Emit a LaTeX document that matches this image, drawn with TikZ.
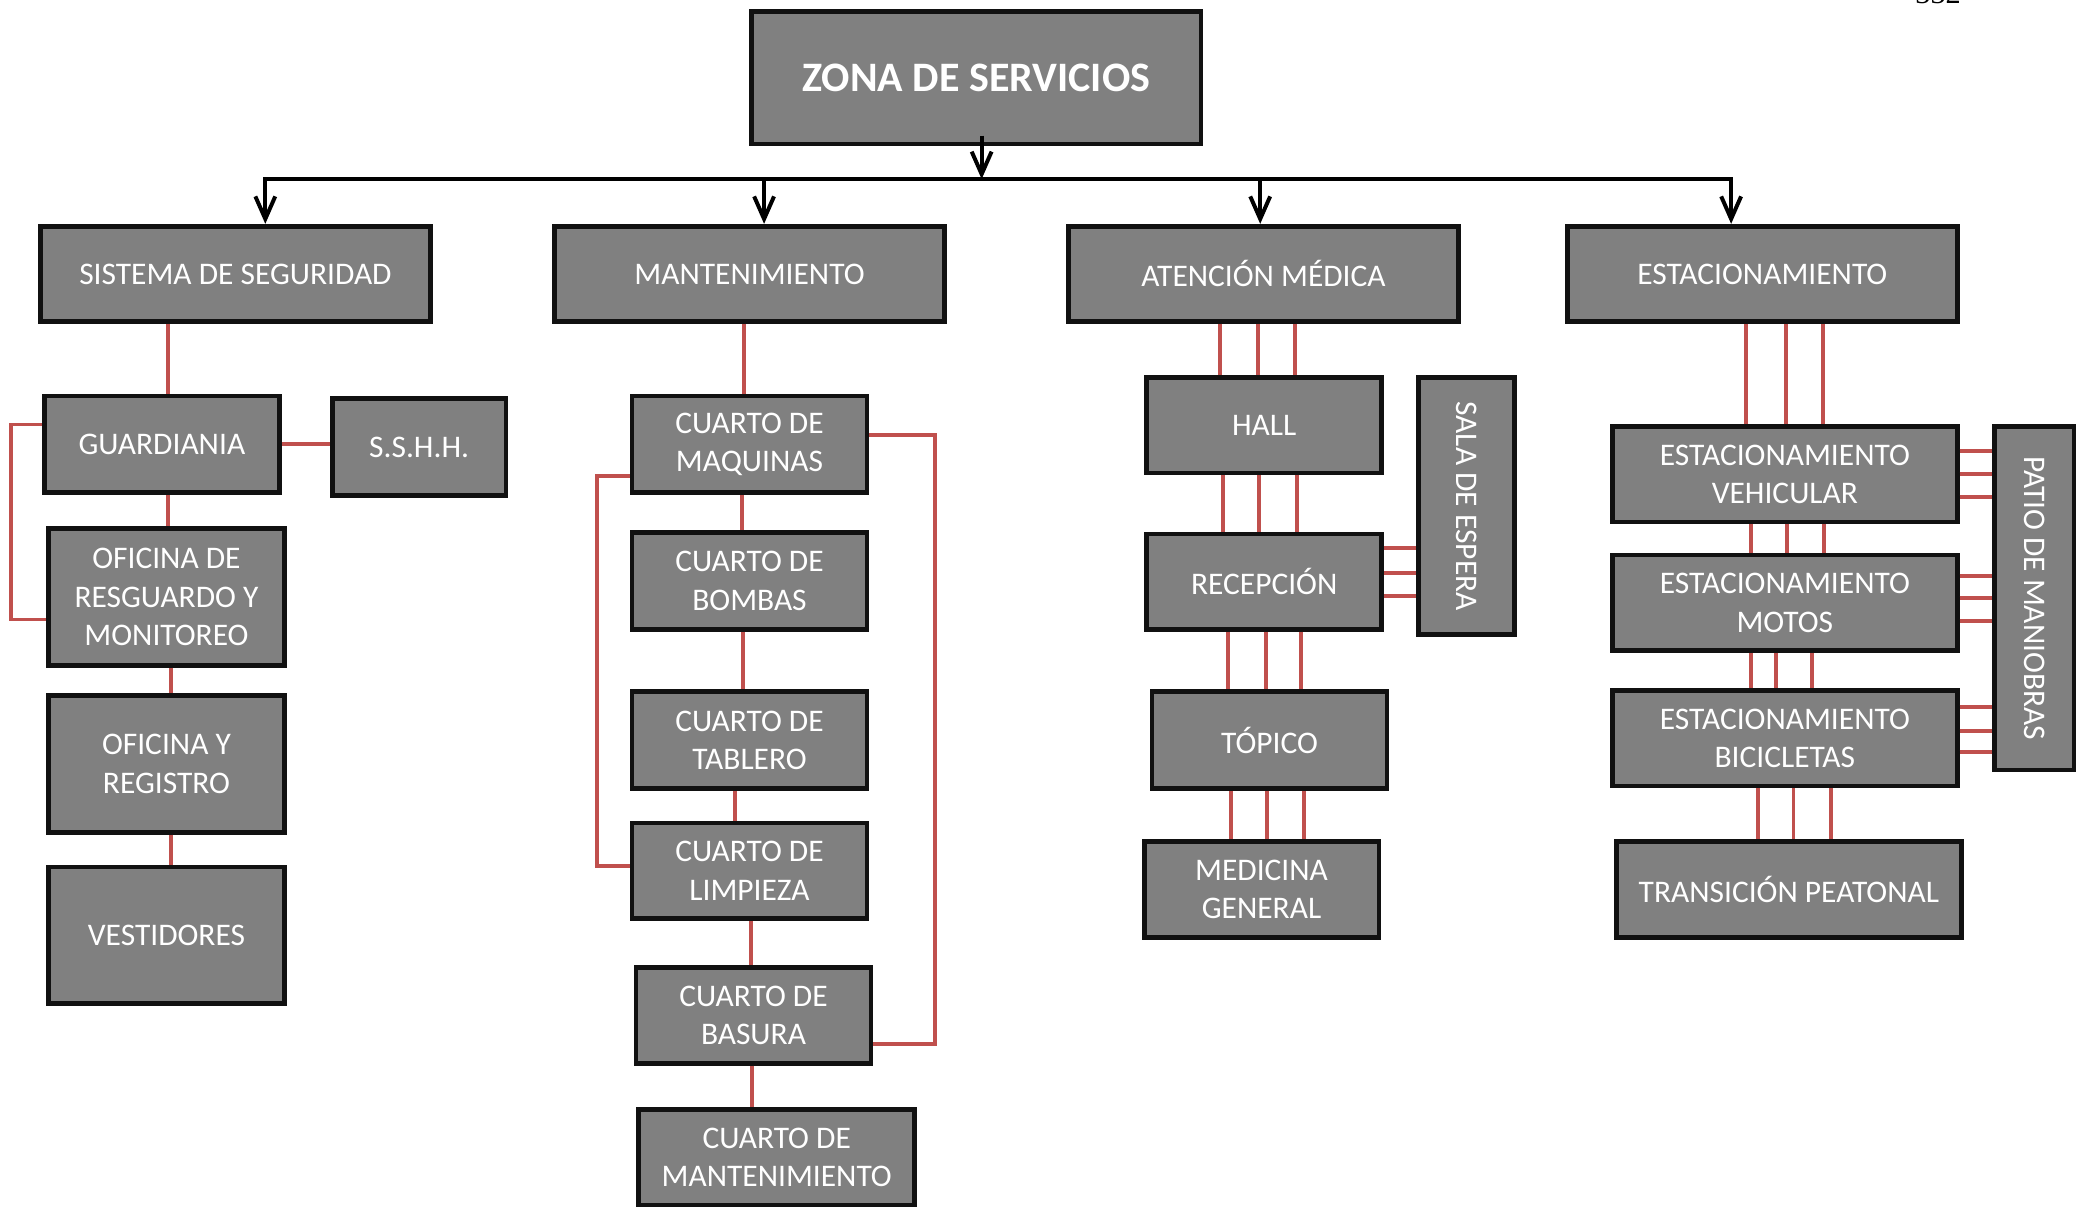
\documentclass[tikz,border=0pt]{standalone}
\usepackage{fontspec}
\setmainfont{Carlito}
\newfontfamily\pagfont{Liberation Serif}
\usetikzlibrary{arrows.meta,calc}
\definecolor{cajagris}{HTML}{808080}
\definecolor{bordenegro}{HTML}{111111}
\definecolor{rojolinea}{HTML}{C0504D}

\begin{document}
\begin{tikzpicture}[x=0.02cm,y=-0.02cm,
    caja/.style={draw=bordenegro, line width=2pt, fill=cajagris, text=white, align=center,
                 inner sep=2pt, font=\fontsize{13.5}{16.5}\selectfont},
    nivel/.style={caja, minimum width=5.88cm, minimum height=1.44cm},
    chica/.style={caja, minimum width=3.54cm, minimum height=1.46cm},
    alta/.style={caja, minimum width=3.56cm, minimum height=2.06cm},
    ancha/.style={caja, minimum width=5.2cm, minimum height=1.44cm},
    linea/.style={draw=rojolinea, line width=1.7pt},
    flecha/.style={draw=black, line width=1.7pt, -{Straight Barb[length=0.34cm,width=0.3cm]}}]
    \useasboundingbox (0,0) rectangle (1568,911);

    \node[font=\pagfont\fontsize{13}{15}\selectfont, anchor=base, inner sep=0pt] (pagina) at (1461,3) {332};

    % zona y areas
    \node[caja, font=\bfseries\fontsize{18}{22}\selectfont, minimum width=6.78cm, minimum height=2cm] (zona) at (736,58.5) {ZONA DE SERVICIOS};
    \node[nivel] (seg) at (177.5,206.5) {SISTEMA DE SEGURIDAD};
    \node[nivel] (mant) at (565,206.5) {MANTENIMIENTO};
    \node[nivel] (aten) at (952.5,206.5) {ATENCIÓN MÉDICA};
    \node[nivel] (esta) at (1328.5,206.5) {ESTACIONAMIENTO};

    \coordinate (bz) at (740,135);
    \coordinate (b1) at (200,135);
    \coordinate (b2) at (576,135);
    \coordinate (b3) at (950,135);
    \coordinate (b4) at (1305,135);
    \draw[flecha] ($(bz |- zona.south)+(0,-8)$) -- (bz);
    \draw[black, line width=1.7pt, line cap=rect] (b1) -- (b4);
    \draw[flecha] (b1) -- (b1 |- seg.north);
    \draw[flecha] (b2) -- (b2 |- mant.north);
    \draw[flecha] (b3) -- (b3 |- aten.north);
    \draw[flecha] (b4) -- (b4 |- esta.north);

    % seguridad
    \node[chica] (guard) at (122,335) {GUARDIANIA};
    \node[caja, minimum width=2.62cm, minimum height=1.46cm] (sshh) at (316,337) {S.S.H.H.};
    \node[alta] (ofres) at (125.5,450) {OFICINA DE\\RESGUARDO Y\\MONITOREO};
    \node[alta] (ofreg) at (125.5,576) {OFICINA Y\\REGISTRO};
    \node[alta] (vest) at (125.5,705) {VESTIDORES};
    \draw[linea] (127,0 |- seg.south) -- (127,0 |- guard.north);
    \draw[linea] (guard.east) -- (sshh.west |- guard.east);
    \draw[linea] (127,0 |- guard.south) -- (127,0 |- ofres.north);
    \draw[linea] (129,0 |- ofres.south) -- (129,0 |- ofreg.north);
    \draw[linea] (129,0 |- ofreg.south) -- (129,0 |- vest.north);
    \draw[linea] (guard.west |- 0,320) -- (8,320) -- (8,467) -- (ofres.west |- 0,467);

    % mantenimiento
    \node[chica] (maq) at (565,335) {CUARTO DE\\MAQUINAS};
    \node[chica] (bomb) at (565,438) {CUARTO DE\\BOMBAS};
    \node[chica] (tab) at (565,558) {CUARTO DE\\TABLERO};
    \node[chica, minimum height=1.44cm] (limp) at (565,656.5) {CUARTO DE\\LIMPIEZA};
    \node[chica, minimum height=1.44cm] (bas) at (568,765.5) {CUARTO DE\\BASURA};
    \node[caja, minimum width=4.16cm, minimum height=1.44cm] (cmant) at (585.5,872.5) {CUARTO DE\\MANTENIMIENTO};
    \draw[linea] (561,0 |- mant.south) -- (561,0 |- maq.north);
    \draw[linea] (559,0 |- maq.south) -- (559,0 |- bomb.north);
    \draw[linea] (560,0 |- bomb.south) -- (560,0 |- tab.north);
    \draw[linea] (554,0 |- tab.south) -- (554,0 |- limp.north);
    \draw[linea] (566,0 |- limp.south) -- (566,0 |- bas.north);
    \draw[linea] (567,0 |- bas.south) -- (567,0 |- cmant.north);
    \draw[linea] (maq.west |- 0,359) -- (450,359) -- (450,653) -- (limp.west |- 0,653);
    \draw[linea] (maq.east |- 0,328) -- (705,328) -- (705,787) -- (bas.east |- 0,787);

    % atencion medica
    \node[chica, minimum height=1.44cm] (hall) at (953,320.5) {HALL};
    \node[chica, minimum height=1.44cm] (recep) at (953,438.5) {RECEPCIÓN};
    \node[caja, minimum width=1.44cm, minimum height=3.88cm] (sala) at (1105.5,381.5) {\rotatebox{-90}{SALA DE ESPERA}};
    \node[chica] (topi) at (957,558) {TÓPICO};
    \node[chica, minimum height=1.44cm] (medi) at (951,670.5) {MEDICINA\\GENERAL};
    \foreach \xx in {920,948,976} \draw[linea] (\xx,0 |- aten.south) -- (\xx,0 |- hall.north);
    \foreach \xx in {922,949,978} \draw[linea] (\xx,0 |- hall.south) -- (\xx,0 |- recep.north);
    \foreach \xx in {926,954,981} \draw[linea] (\xx,0 |- recep.south) -- (\xx,0 |- topi.north);
    \foreach \xx in {928,955,983} \draw[linea] (\xx,0 |- topi.south) -- (\xx,0 |- medi.north);
    \foreach \yy in {413,432,449} \draw[linea] (recep.east |- 0,\yy) -- (sala.west |- 0,\yy);

    % estacionamiento
    \node[ancha] (vehi) at (1345.5,357.5) {ESTACIONAMIENTO\\VEHICULAR};
    \node[ancha] (moto) at (1345.5,454.5) {ESTACIONAMIENTO\\MOTOS};
    \node[ancha] (bici) at (1345.5,556.5) {ESTACIONAMIENTO\\BICICLETAS};
    \node[ancha] (tran) at (1348.5,670.5) {TRANSICIÓN PEATONAL};
    \node[caja, minimum width=1.2cm, minimum height=5.18cm] (patio) at (1533.5,451) {\rotatebox{-90}{PATIO DE MANIOBRAS}};
    \foreach \xx in {1316,1346,1374} \draw[linea] (\xx,0 |- esta.south) -- (\xx,0 |- vehi.north);
    \foreach \xx in {1320,1347,1375} \draw[linea] (\xx,0 |- vehi.south) -- (\xx,0 |- moto.north);
    \foreach \xx in {1320,1339,1366} \draw[linea] (\xx,0 |- moto.south) -- (\xx,0 |- bici.north);
    \foreach \xx in {1325,1352,1380} \draw[linea] (\xx,0 |- bici.south) -- (\xx,0 |- tran.north);
    \foreach \yy in {340,357,375,434,451,468,533,551,567} \draw[linea] (vehi.east |- 0,\yy) -- (patio.west |- 0,\yy);
\end{tikzpicture}
\end{document}
